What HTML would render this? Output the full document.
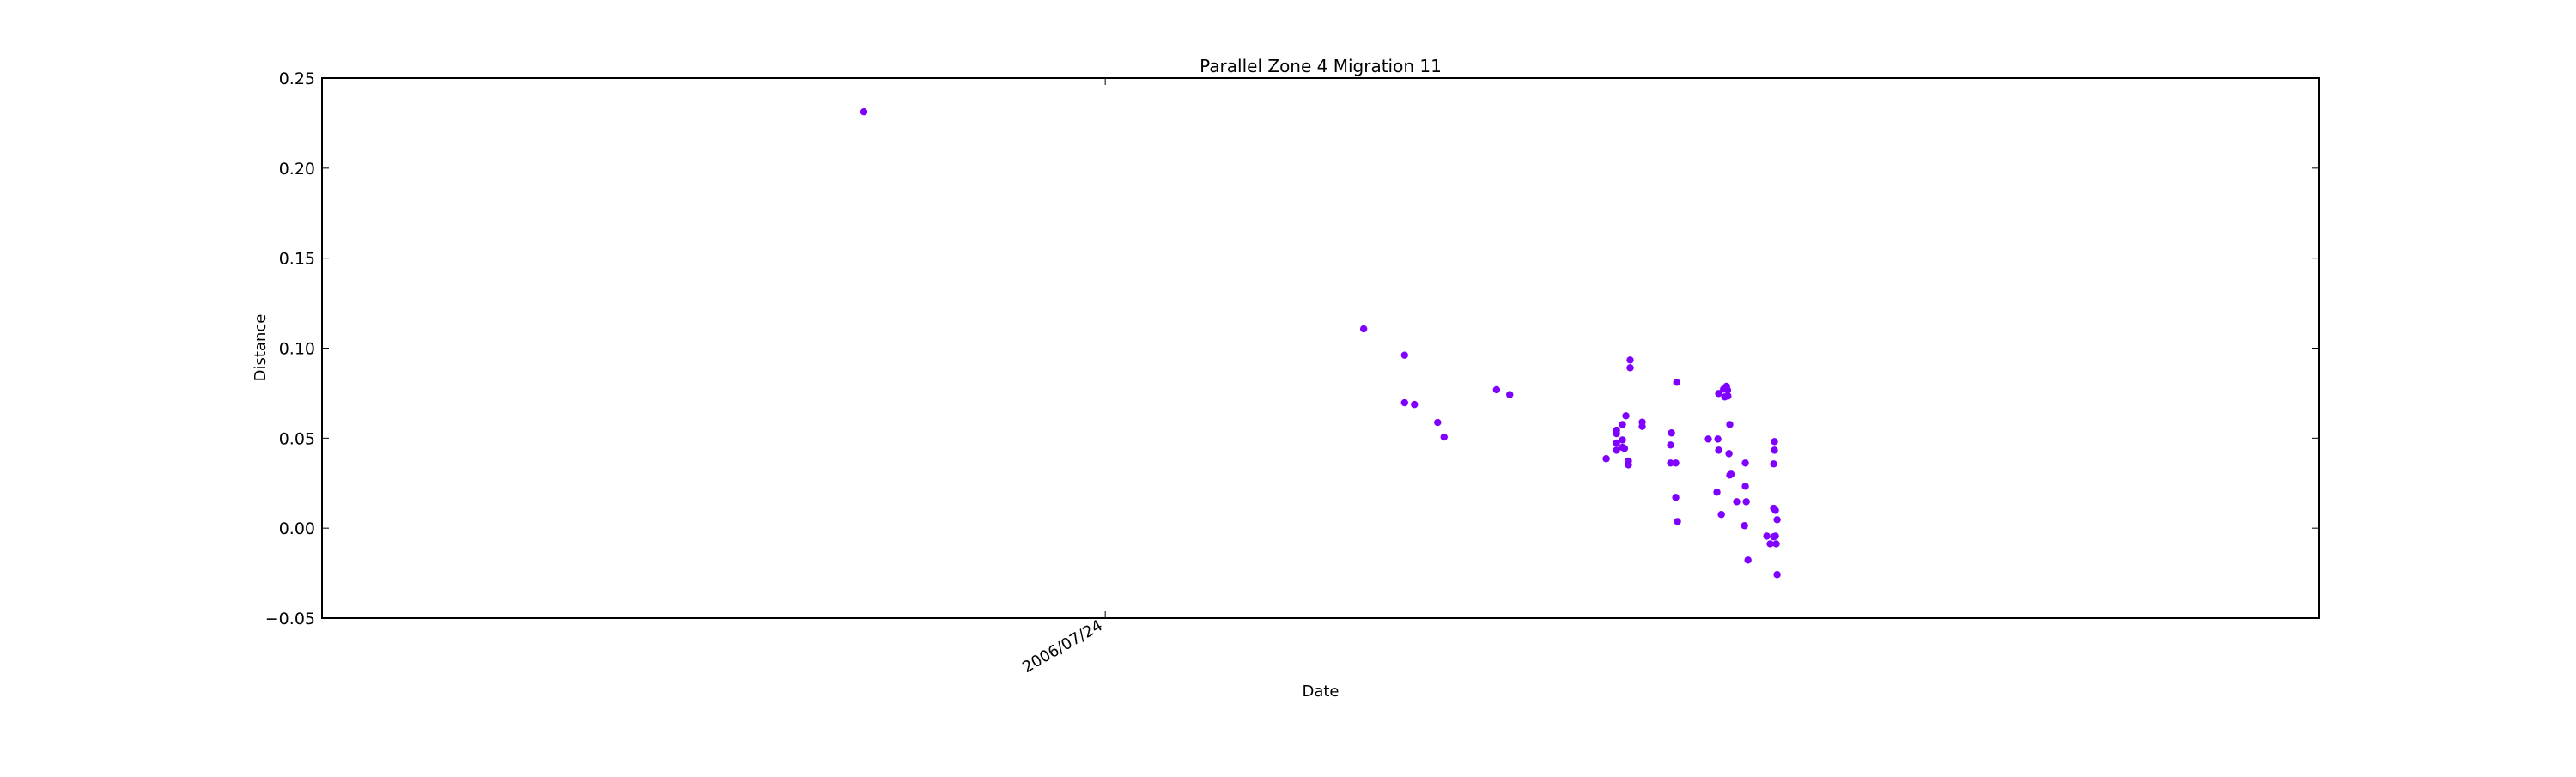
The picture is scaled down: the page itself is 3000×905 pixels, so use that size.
<!DOCTYPE html>
<html><head><meta charset="utf-8"><style>
html,body{margin:0;padding:0;background:#fff;}
svg text{font-family:"DejaVu Sans","Liberation Sans",sans-serif;fill:#000;}
</style></head><body>
<svg id="chart" width="3000" height="900" viewBox="0 0 3000 900" xmlns="http://www.w3.org/2000/svg">
<rect width="3000" height="900" fill="#fff"/>
<text x="1538" y="84" font-size="20" text-anchor="middle">Parallel Zone 4 Migration 11</text>
<text x="1538" y="811" font-size="18" text-anchor="middle">Date</text>
<text x="0" y="0" font-size="18" text-anchor="middle" transform="translate(309,405) rotate(-90)">Distance</text>
<g id="marks"></g>
<g id="axes"></g>
</svg>
<script>
// days relative to 2006/07/24
const days = [-15.41,16.50,19.11,19.11,19.74,21.22,21.63,24.98,25.82,
33.51,33.51,36.48,33.24,33.02,34.28,34.28,32.64,32.64,33.02,32.64,32.64,33.02,33.15,31.98,33.40,33.40,
36.15,36.09,36.09,36.42,36.42,36.53,
39.66,39.47,39.73,39.16,39.55,39.75,39.87,38.50,39.11,39.16,39.82,40.86,39.87,39.95,40.86,39.05,40.31,40.92,39.33,40.81,41.03,
42.72,42.72,42.67,42.67,42.78,42.89,42.23,42.67,42.78,42.45,42.83,42.89];
const distances = [0.2313,0.1107,0.0961,0.0697,0.0687,0.0587,0.0506,0.0769,0.0742,
0.0934,0.0891,0.0810,0.0624,0.0576,0.0589,0.0565,0.0544,0.0525,0.0490,0.0473,0.0433,0.0449,0.0443,0.0386,0.0373,0.0352,
0.0529,0.0462,0.0362,0.0362,0.0171,0.0037,
0.0788,0.0772,0.0767,0.0748,0.0729,0.0734,0.0576,0.0495,0.0495,0.0433,0.0414,0.0362,0.0295,0.0300,0.0233,0.0200,0.0147,0.0147,0.0076,0.0014,-0.0177,
0.0481,0.0433,0.0357,0.0110,0.0099,0.0047,-0.0044,-0.0048,-0.0044,-0.0087,-0.0087,-0.0258];
const yTicks = [-0.05,0.00,0.05,0.10,0.15,0.20,0.25];
const yTickLabels = ["\u22120.05","0.00","0.05","0.10","0.15","0.20","0.25"];
const xTicks = [0];
const xTickLabels = ["2006/07/24"];

const L=375,R=2701,T=91,B=720;
const xMin=-50,xMax=77.5,yMin=-0.05,yMax=0.25;
function xs(d){return L+(d-xMin)/(xMax-xMin)*(R-L);}
function ys(v){return B-(v-yMin)/(yMax-yMin)*(B-T);}
const NS="http://www.w3.org/2000/svg";
const marks=document.getElementById('marks');
const axes=document.getElementById('axes');
function mk(tag,attrs,parent){const e=document.createElementNS(NS,tag);for(const k in attrs)e.setAttribute(k,attrs[k]);parent.appendChild(e);return e;}
for(let i=0;i<days.length;i++){
  const c=mk('circle',{cx:xs(days[i]),cy:ys(distances[i]),r:4.2,fill:'#7f00ff'},marks);
  
  
}
const frame=mk('rect',{x:L,y:T,width:R-L,height:B-T,fill:'none',stroke:'#000','stroke-width':2},axes);


for(let i=0;i<yTicks.length;i++){
  const y=ys(yTicks[i]);
  mk('line',{x1:L,y1:y,x2:L+8,y2:y,stroke:'#000','stroke-width':1},axes);
  mk('line',{x1:R-8,y1:y,x2:R,y2:y,stroke:'#000','stroke-width':1},axes);
  const t=mk('text',{x:L-8,y:y+7,'font-size':19,'text-anchor':'end'},axes);
  t.textContent=yTickLabels[i];
  
  
}
for(let i=0;i<xTicks.length;i++){
  const x=xs(xTicks[i]);
  mk('line',{x1:x,y1:B,x2:x,y2:B-8,stroke:'#000','stroke-width':1},axes);
  mk('line',{x1:x,y1:T,x2:x,y2:T+8,stroke:'#000','stroke-width':1},axes);
  const t=mk('text',{x:0,y:0,'font-size':18,'text-anchor':'end',transform:'translate('+(x-2)+','+(B+12)+') rotate(-30)'},axes);
  t.textContent=xTickLabels[i];
  
  
}
</script>
</body></html>
